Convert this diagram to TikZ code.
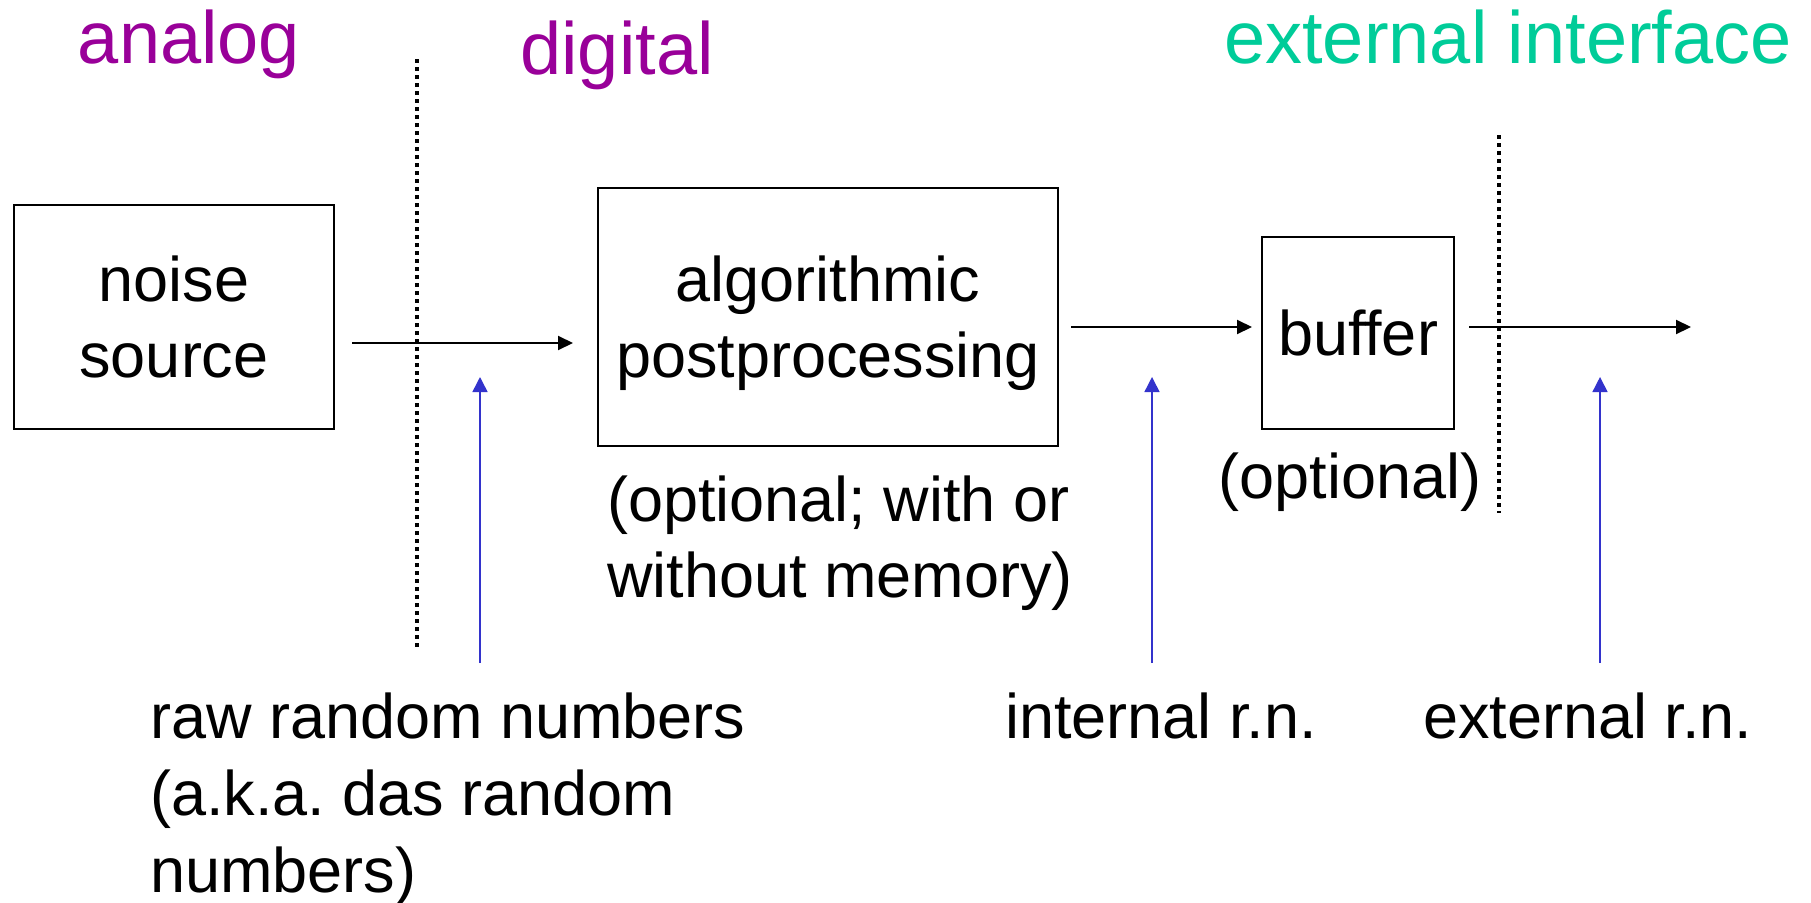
\documentclass[tikz,border=0pt]{standalone}
\usepackage{fontspec}
\setmainfont{Liberation Sans}
\usetikzlibrary{arrows.meta}

\definecolor{headpurple}{HTML}{990099}
\definecolor{headgreen}{HTML}{00CC99}
\definecolor{rnblue}{HTML}{3333CC}

\begin{document}
\begin{tikzpicture}[x=1pt,y=-1pt]
\tikzstyle{every node}=[inner sep=0pt, font=\fontsize{63}{76}\selectfont]
\tikzstyle{block}=
[
	draw, line width=2pt,
	align=center, text depth=0pt
]
\tikzstyle{head}=[anchor=base, font=\fontsize{74}{89}\selectfont]
\tikzstyle{note}=[align=left, anchor=base west]
\tikzstyle{flow}=[-{Triangle[length=15pt,width=14pt]}, line width=2pt]
\tikzstyle{probe}=[-{Triangle[length=15pt,width=15pt]}, rnblue, line width=1.5pt]
\tikzstyle{border}=[line width=4pt, dash pattern=on 4pt off 4pt]

\useasboundingbox (0,0) rectangle (1811,902);

\node[head, headpurple] (analog) at (189,63) {analog};
\node[head, headpurple] (digital) at (617,74) {digital};
\node[head, headgreen, anchor=base west] (iface) at (1224,63) {external interface};

\node[block, minimum width=320pt, minimum height=224pt] (noise) at (174,317) {noise\\source};
\node[block, minimum width=460pt, minimum height=258pt] (algo) at (828,317) {algorithmic\\postprocessing};
\node[block, minimum width=192pt, minimum height=192pt] (buffer) at (1358,333) {buffer};

\node[note] (algonote) at (607,597) {(optional; with or\\without memory)};
\node[anchor=base] (bufnote) at (1350,498) {(optional)};

\node[note, font=\fontsize{63}{77}\selectfont] (rawlbl) at (150,892) {raw random numbers\\(a.k.a.\ das random\\numbers)};
\node[note] (intlbl) at (1005,738) {internal r.n.};
\node[note] (extlbl) at (1423,738) {external r.n.};

\coordinate (cut1top) at (417,59);
\coordinate (cut1bot) at (417,647);
\coordinate (cut2top) at (1499,135);
\coordinate (cut2bot) at (1499,513);
\draw[border] (cut1top) -- (cut1bot);
\draw[border] (cut2top) -- (cut2bot);

\coordinate (out) at (1691,327);
\draw[flow] ([xshift=17pt,yshift=-26pt]noise.east) -- ([xshift=-24pt,yshift=-26pt]algo.west);
\draw[flow] ([xshift=12pt,yshift=-10pt]algo.east) -- ([xshift=-9pt,yshift=6pt]buffer.west);
\draw[flow] ([xshift=14pt,yshift=6pt]buffer.east) -- (out);

\coordinate (rawtip) at (480,377);
\coordinate (rawfoot) at (480,663);
\coordinate (inttip) at (1152,377);
\coordinate (intfoot) at (1152,663);
\coordinate (exttip) at (1600,377);
\coordinate (extfoot) at (1600,663);
\draw[probe] (rawfoot) -- (rawtip);
\draw[probe] (intfoot) -- (inttip);
\draw[probe] (extfoot) -- (exttip);
\end{tikzpicture}
\end{document}
